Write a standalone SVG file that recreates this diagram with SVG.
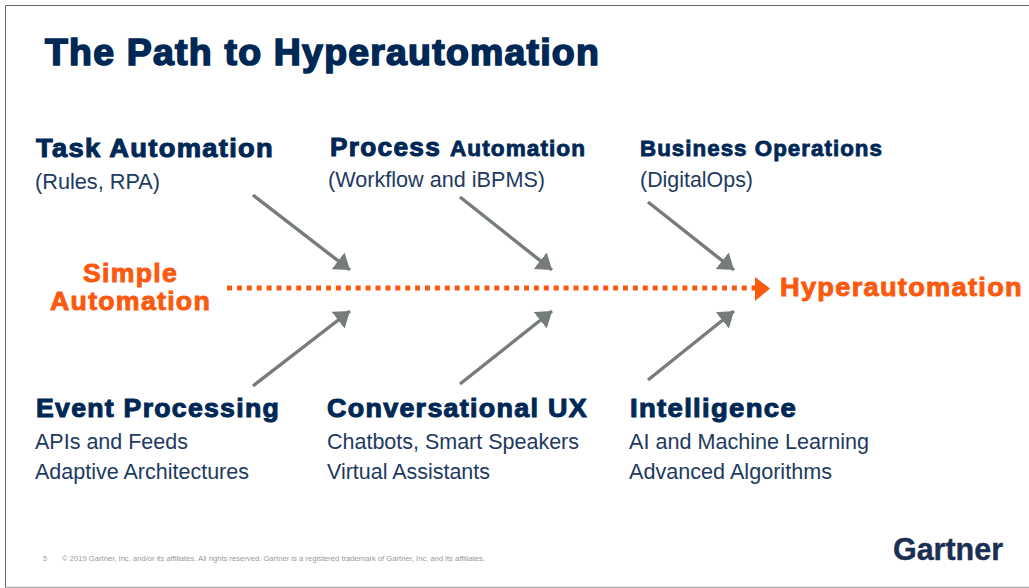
<svg xmlns="http://www.w3.org/2000/svg" width="1029" height="588" viewBox="0 0 1029 588">
<defs>
<marker id="gh" markerUnits="userSpaceOnUse" markerWidth="17" markerHeight="22" refX="15" refY="10.5" orient="auto"><path d="M0 0L15 10.5L0 21Z" fill="#767b7c"/></marker>
</defs>
<style>
text{font-family:"Liberation Sans",Arial,sans-serif}
.h{font-weight:bold;fill:#002856;stroke:#002856;stroke-width:1;font-size:25px;letter-spacing:1.2px}
.h2{font-weight:bold;fill:#002856;stroke:#002856;stroke-width:.8;font-size:21.5px;letter-spacing:1px}
.s{fill:#1d3a5f;font-size:22.5px}
.o{font-weight:bold;fill:#fa5a0f;stroke:#fa5a0f;stroke-width:.9;font-size:25.5px;letter-spacing:1.2px}
.c{stroke:#767b7c;stroke-width:3.4;fill:none;marker-end:url(#gh)}
</style>
<rect width="1029" height="588" fill="#fff"/>
<path d="M5.5 588V5.5H1029" fill="none" stroke="#666" stroke-width="1"/>
<path d="M5 587.5H1029" fill="none" stroke="#aaa" stroke-width="1.5"/>
<g id="title"><text x="45" y="65" font-size="36.5" font-weight="bold" fill="#002856" stroke="#002856" stroke-width="1.6" letter-spacing="1.2" textLength="555" lengthAdjust="spacingAndGlyphs">The Path to Hyperautomation</text></g>
<g id="connectors">
<path class="c" d="M253 195L350 270"/>
<path class="c" d="M460 197L552 270"/>
<path class="c" d="M648 202L734 270"/>
<path class="c" d="M253 386L350 311"/>
<path class="c" d="M460 384L552 311"/>
<path class="c" d="M648 380L734 311"/>
<path d="M227 288H756" stroke="#fa5a0f" stroke-width="5" stroke-dasharray="5 4.9" fill="none"/>
<path d="M755 277L770 288.5L755 301Z" fill="#fa5a0f"/>
</g>
<g id="task"><text class="h" x="36" y="157" textLength="238" lengthAdjust="spacingAndGlyphs">Task Automation</text><text class="s" x="35" y="189" textLength="125" lengthAdjust="spacingAndGlyphs">(Rules, RPA)</text></g>
<g id="process"><text class="h" x="330" y="156" textLength="111" lengthAdjust="spacingAndGlyphs">Process</text><text class="h2" x="450" y="156" textLength="136" lengthAdjust="spacingAndGlyphs">Automation</text><text class="s" x="328" y="187" textLength="217" lengthAdjust="spacingAndGlyphs">(Workflow and iBPMS)</text></g>
<g id="business"><text class="h2" x="640" y="156" textLength="243" lengthAdjust="spacingAndGlyphs">Business Operations</text><text class="s" x="640" y="187" textLength="113" lengthAdjust="spacingAndGlyphs">(DigitalOps)</text></g>
<g id="simple"><text class="o" x="83" y="281.5" textLength="95" lengthAdjust="spacingAndGlyphs">Simple</text><text class="o" x="50" y="310" textLength="161" lengthAdjust="spacingAndGlyphs">Automation</text></g>
<g id="hyper"><text class="o" x="780" y="296" textLength="243" lengthAdjust="spacingAndGlyphs">Hyperautomation</text></g>
<g id="event"><text class="h" x="36" y="417" textLength="244" lengthAdjust="spacingAndGlyphs">Event Processing</text><text class="s" x="35" y="448.5" textLength="153" lengthAdjust="spacingAndGlyphs">APIs and Feeds</text><text class="s" x="35" y="478.5" textLength="214" lengthAdjust="spacingAndGlyphs">Adaptive Architectures</text></g>
<g id="conv"><text class="h" x="327" y="417" textLength="261" lengthAdjust="spacingAndGlyphs">Conversational UX</text><text class="s" x="327" y="448.5" textLength="252" lengthAdjust="spacingAndGlyphs">Chatbots, Smart Speakers</text><text class="s" x="327" y="478.5" textLength="163" lengthAdjust="spacingAndGlyphs">Virtual Assistants</text></g>
<g id="intel"><text class="h" x="630" y="417" textLength="167" lengthAdjust="spacingAndGlyphs">Intelligence</text><text class="s" x="629" y="448.5" textLength="240" lengthAdjust="spacingAndGlyphs">AI and Machine Learning</text><text class="s" x="629" y="478.5" textLength="203" lengthAdjust="spacingAndGlyphs">Advanced Algorithms</text></g>
<g id="footer"><text x="43" y="561" font-size="7" fill="#999">5</text><text x="62" y="561" font-size="7" fill="#999" textLength="423" lengthAdjust="spacingAndGlyphs">© 2019 Gartner, Inc. and/or its affiliates. All rights reserved. Gartner is a registered trademark of Gartner, Inc. and its affiliates.</text></g>
<g id="logo"><text x="893" y="560" font-size="31" font-weight="bold" fill="#1b2f52" stroke="#1b2f52" stroke-width=".4" textLength="110" lengthAdjust="spacingAndGlyphs">Gartner</text></g>
</svg>
